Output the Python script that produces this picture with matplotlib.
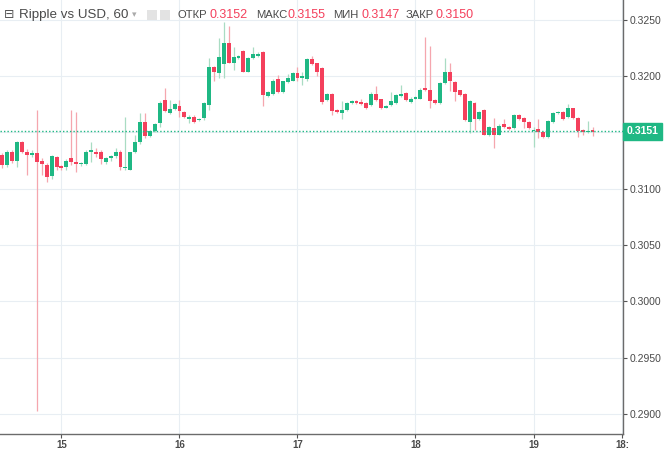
import matplotlib
matplotlib.use("Agg")
import matplotlib.pyplot as plt
from matplotlib.patches import Rectangle
import numpy as np

# ---- data (hourly candles, hours since 15 00:00) ----
start_hour = -12
opens = [0.3130, 0.3121, 0.3133, 0.3125, 0.3141, 0.3133, 0.3130, 0.3132, 0.3125, 0.3121,
         0.3111, 0.3128, 0.3120, 0.3119, 0.3127, 0.3124, 0.3122, 0.3122, 0.3133, 0.3133,
         0.3133, 0.3124, 0.3127, 0.3129, 0.3133, 0.3118, 0.3117, 0.3133, 0.3141, 0.3159,
         0.3147, 0.3151, 0.3158, 0.3179, 0.3167, 0.3171, 0.3173, 0.3168, 0.3162, 0.3164,
         0.3161, 0.3163, 0.3174, 0.3208, 0.3203, 0.3211, 0.3229, 0.3212, 0.3216, 0.3222,
         0.3204, 0.3216, 0.3218, 0.3221, 0.3182, 0.3184, 0.3197, 0.3186, 0.3195, 0.3196,
         0.3203, 0.3198, 0.3197, 0.3215, 0.3212, 0.3207, 0.3179, 0.3184, 0.3170, 0.3167,
         0.3170, 0.3176, 0.3178, 0.3177, 0.3176, 0.3174, 0.3184, 0.3180, 0.3172, 0.3174,
         0.3176, 0.3182, 0.3185, 0.3177, 0.3180, 0.3180, 0.3189, 0.3188, 0.3179, 0.3176,
         0.3194, 0.3204, 0.3195, 0.3188, 0.3184, 0.3159, 0.3176, 0.3162, 0.3170, 0.3148,
         0.3154, 0.3148, 0.3157, 0.3155, 0.3154, 0.3165, 0.3163, 0.3159, 0.3151, 0.3153,
         0.3150, 0.3146, 0.3159, 0.3167, 0.3168, 0.3164, 0.3172, 0.3163, 0.3152, 0.3150,
         0.3152]
highs = [0.3132, 0.3134, 0.3134, 0.3142, 0.3142, 0.3135, 0.3134, 0.3170, 0.3127, 0.3123,
         0.3130, 0.3129, 0.3121, 0.3126, 0.3170, 0.3168, 0.3124, 0.3134, 0.3141, 0.3136,
         0.3134, 0.3128, 0.3130, 0.3136, 0.3134, 0.3164, 0.3133, 0.3148, 0.3167, 0.3167,
         0.3152, 0.3158, 0.3178, 0.3189, 0.3179, 0.3176, 0.3179, 0.3169, 0.3165, 0.3165,
         0.3163, 0.3177, 0.3216, 0.3209, 0.3234, 0.3248, 0.3244, 0.3226, 0.3219, 0.3223,
         0.3217, 0.3226, 0.3221, 0.3222, 0.3187, 0.3197, 0.3201, 0.3196, 0.3202, 0.3204,
         0.3208, 0.3204, 0.3216, 0.3218, 0.3212, 0.3208, 0.3185, 0.3185, 0.3171, 0.3178,
         0.3177, 0.3179, 0.3179, 0.3180, 0.3177, 0.3186, 0.3191, 0.3180, 0.3174, 0.3186,
         0.3184, 0.3192, 0.3186, 0.3181, 0.3182, 0.3189, 0.3235, 0.3227, 0.3180, 0.3195,
         0.3216, 0.3212, 0.3196, 0.3188, 0.3185, 0.3179, 0.3177, 0.3169, 0.3171, 0.3156,
         0.3163, 0.3157, 0.3162, 0.3156, 0.3166, 0.3166, 0.3164, 0.3160, 0.3155, 0.3162,
         0.3151, 0.3161, 0.3168, 0.3169, 0.3169, 0.3175, 0.3172, 0.3164, 0.3153, 0.3160,
         0.3155]
lows = [0.3118, 0.3119, 0.3123, 0.3119, 0.3132, 0.3112, 0.3128, 0.2903, 0.3112, 0.3106,
        0.3109, 0.3117, 0.3117, 0.3117, 0.3121, 0.3115, 0.3120, 0.3121, 0.3124, 0.3128,
        0.3122, 0.3122, 0.3125, 0.3127, 0.3117, 0.3117, 0.3117, 0.3132, 0.3140, 0.3145,
        0.3146, 0.3150, 0.3155, 0.3168, 0.3166, 0.3170, 0.3164, 0.3163, 0.3158, 0.3158,
        0.3160, 0.3161, 0.3170, 0.3196, 0.3198, 0.3198, 0.3212, 0.3205, 0.3215, 0.3204,
        0.3204, 0.3215, 0.3217, 0.3173, 0.3181, 0.3183, 0.3185, 0.3185, 0.3194, 0.3196,
        0.3196, 0.3192, 0.3196, 0.3210, 0.3200, 0.3175, 0.3178, 0.3165, 0.3167, 0.3162,
        0.3169, 0.3175, 0.3175, 0.3174, 0.3171, 0.3173, 0.3178, 0.3171, 0.3172, 0.3173,
        0.3175, 0.3181, 0.3178, 0.3176, 0.3180, 0.3180, 0.3187, 0.3172, 0.3175, 0.3175,
        0.3193, 0.3187, 0.3178, 0.3182, 0.3160, 0.3149, 0.3152, 0.3161, 0.3148, 0.3147,
        0.3136, 0.3148, 0.3154, 0.3152, 0.3153, 0.3161, 0.3154, 0.3153, 0.3137, 0.3145,
        0.3145, 0.3145, 0.3158, 0.3166, 0.3161, 0.3163, 0.3162, 0.3146, 0.3148, 0.3149,
        0.3147]
closes = [0.3121, 0.3133, 0.3125, 0.3141, 0.3133, 0.3130, 0.3132, 0.3124, 0.3122, 0.3110,
          0.3129, 0.3119, 0.3118, 0.3125, 0.3124, 0.3122, 0.3123, 0.3133, 0.3134, 0.3131,
          0.3126, 0.3127, 0.3129, 0.3133, 0.3119, 0.3119, 0.3133, 0.3141, 0.3159, 0.3147,
          0.3151, 0.3157, 0.3176, 0.3169, 0.3171, 0.3175, 0.3169, 0.3164, 0.3164, 0.3159,
          0.3162, 0.3176, 0.3208, 0.3204, 0.3217, 0.3229, 0.3212, 0.3217, 0.3218, 0.3204,
          0.3216, 0.3220, 0.3220, 0.3183, 0.3186, 0.3196, 0.3186, 0.3196, 0.3198, 0.3203,
          0.3198, 0.3200, 0.3215, 0.3211, 0.3204, 0.3177, 0.3184, 0.3169, 0.3168, 0.3170,
          0.3176, 0.3178, 0.3176, 0.3175, 0.3172, 0.3184, 0.3179, 0.3172, 0.3173, 0.3178,
          0.3183, 0.3184, 0.3179, 0.3180, 0.3181, 0.3188, 0.3188, 0.3178, 0.3176, 0.3194,
          0.3204, 0.3196, 0.3186, 0.3183, 0.3161, 0.3178, 0.3162, 0.3168, 0.3148, 0.3155,
          0.3148, 0.3156, 0.3155, 0.3153, 0.3165, 0.3162, 0.3159, 0.3154, 0.3152, 0.3150,
          0.3146, 0.3160, 0.3167, 0.3168, 0.3162, 0.3172, 0.3163, 0.3151, 0.3150, 0.3151,
          0.3150]

last_price = 0.3151
y_ticks = [0.2900, 0.2950, 0.3000, 0.3050, 0.3100, 0.3150, 0.3200, 0.3250]
x_tick_hours = [0, 24, 48, 72, 96, 114]
x_tick_labels = ["15", "16", "17", "18", "19", "18:"]
title_text = "Ripple vs USD, 60"
ohlc_names = ["ОТКР", "МАКС", "МИН", "ЗАКР"]
ohlc_values = ["0.3152", "0.3155", "0.3147", "0.3150"]

# ---- style ----
UP = "#1fb884"
DOWN = "#f4405c"
WICK_UP = "#a9dcc3"
WICK_DOWN = "#f5a6ae"
GRID = "#e8eef3"
TEXT = "#4a4a4a"
FONT = ["Liberation Sans", "DejaVu Sans"]

plt.rcParams['font.family'] = FONT

fig = plt.figure(figsize=(6.65, 4.5), dpi=100)
ax = fig.add_axes([0.0, 16 / 450, 623 / 665, 434 / 450])

o = np.array(opens); h = np.array(highs); l = np.array(lows); c = np.array(closes)
x = start_hour + np.arange(len(o))
up = c >= o

ax.vlines(x[up], l[up], h[up], color=WICK_UP, lw=0.9, zorder=2)
ax.vlines(x[~up], l[~up], h[~up], color=WICK_DOWN, lw=0.9, zorder=2)

bottoms = np.minimum(o, c)
heights = np.maximum(np.abs(c - o), 0.00012)
ax.bar(x[up], heights[up], bottom=bottoms[up], width=0.8, color=UP, zorder=3, linewidth=0)
ax.bar(x[~up], heights[~up], bottom=bottoms[~up], width=0.8, color=DOWN, zorder=3, linewidth=0)

ax.axhline(last_price, color=UP, lw=1.0, ls=(0, (1, 1.5)), zorder=4)

ax.set_xlim(-12.5, 114.2)
ax.set_ylim(0.28822, 0.32675)

ax.set_yticks(y_ticks)
ax.set_yticklabels(["" if abs(v - 0.3150) < 1e-6 else f"{v:.4f}" for v in y_ticks])
ax.yaxis.tick_right()
ax.set_xticks(x_tick_hours)
ax.set_xticklabels(x_tick_labels)
ax.tick_params(axis='y', which='both', length=3, width=0.8, color="#555555",
               labelsize=7.5, labelcolor=TEXT, pad=2)
ax.tick_params(axis='x', which='both', length=3, width=0.8, color="#555555",
               labelsize=7.0, labelcolor=TEXT, pad=1.2)
for t in ax.get_xticklabels():
    t.set_fontweight("bold")

ax.grid(True, color=GRID, lw=0.8, zorder=0)
ax.set_axisbelow(True)
for side in ["left", "top"]:
    ax.spines[side].set_visible(False)
for side in ["right", "bottom"]:
    ax.spines[side].set_color("#6b6b6b")
    ax.spines[side].set_linewidth(1.0)

# price label on the right axis
ax.annotate(f"{last_price:.4f}", xy=(1.0, last_price), xycoords=('axes fraction', 'data'),
            xytext=(2.5, 0), textcoords='offset points', ha='left', va='center',
            fontsize=7.6, color="white", fontweight="bold",
            bbox=dict(boxstyle="square,pad=0.32", fc=UP, ec=UP), zorder=6,
            annotation_clip=False)

# ---- header ----
def px(xp, yp):
    return xp / 665, 1 - yp / 450

fig.text(*px(4, 15), "⊟", fontsize=9, color="#555555", va='center', ha='left',
         family=["DejaVu Sans"])
fig.text(*px(19, 15), title_text, fontsize=9.6, color=TEXT, va='center', ha='left')
fig.text(*px(132, 15), "▾", fontsize=6.5, color="#aaaaaa", va='center', ha='left',
         family=["DejaVu Sans"])
for xp in (147, 160):
    fig.patches.append(Rectangle(px(xp, 20), 10 / 665, 10 / 450, transform=fig.transFigure,
                                 fc="#e3e3e3", ec="none"))
name_x = [178, 256, 333, 406]
val_x = [209, 288, 361, 436]
for nx, vx, nm, vl in zip(name_x, val_x, ohlc_names, ohlc_values):
    fig.text(*px(nx, 15), nm, fontsize=8.1, color=TEXT, va='center', ha='left')
    fig.text(*px(vx, 15), vl, fontsize=9.0, color=DOWN, va='center', ha='left')

fig.savefig("out.png", dpi=100)
